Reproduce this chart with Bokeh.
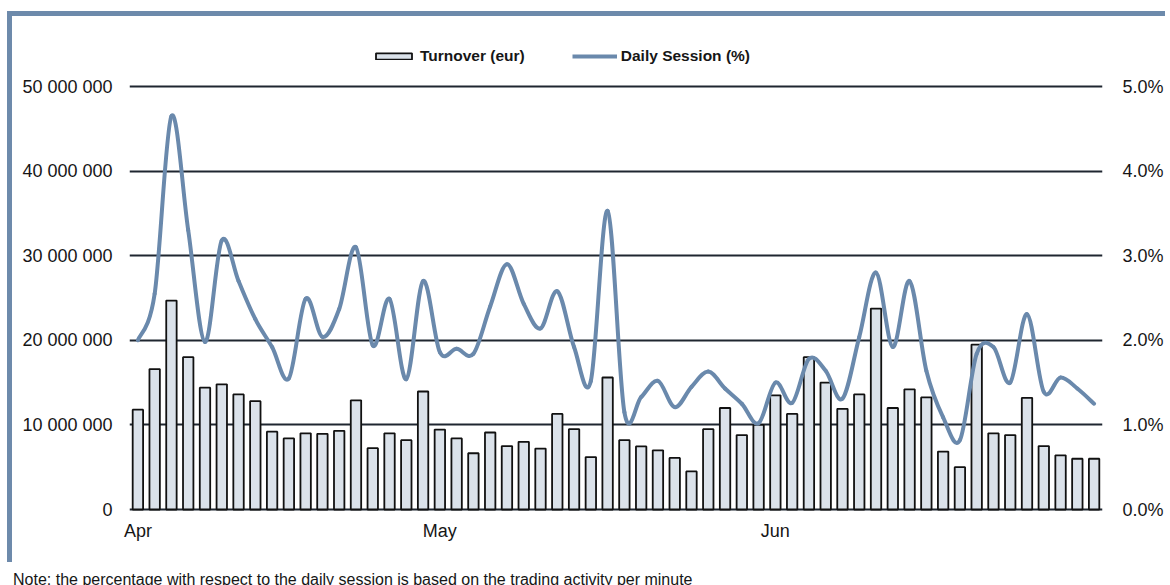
import numpy as np
from bokeh.plotting import figure
from bokeh.layouts import column
from bokeh.models import (Range1d, LinearAxis, FixedTicker, PrintfTickFormatter,
                          Legend, LegendItem, Div)
from bokeh.embed import file_html
from bokeh.resources import INLINE

# ---------------- data ----------------
month_labels = ["Apr", "May", "Jun"]
month_first_day_index = [0, 18, 38]   # index of first trading day of each month

turnover_million_eur = [
    11.8, 16.6, 24.7, 18.0, 14.4, 14.8, 13.6, 12.8, 9.2, 8.4,
    9.0, 8.95, 9.3, 12.9, 7.25, 9.0, 8.2, 13.95, 9.45, 8.4,
    6.65, 9.1, 7.5, 8.0, 7.2, 11.3, 9.5, 6.2, 15.6, 8.2,
    7.45, 7.0, 6.1, 4.5, 9.5, 12.0, 8.8, 10.0, 13.5, 11.3,
    18.0, 15.0, 11.9, 13.6, 23.75, 12.0, 14.2, 13.25, 6.85, 5.0,
    19.5, 9.0, 8.8, 13.2, 7.5, 6.4, 6.0, 6.0,
]
daily_session_pct = [
    2.0, 2.55, 4.65, 3.3, 1.98, 3.18, 2.7, 2.25, 1.92, 1.55,
    2.49, 2.04, 2.37, 3.1, 1.94, 2.49, 1.54, 2.7, 1.86, 1.9,
    1.84, 2.4, 2.9, 2.43, 2.14, 2.58, 1.92, 1.52, 3.53, 1.15,
    1.33, 1.52, 1.21, 1.45, 1.63, 1.43, 1.25, 1.02, 1.5, 1.26,
    1.78, 1.64, 1.31, 2.04, 2.8, 1.92, 2.7, 1.64, 1.09, 0.82,
    1.84, 1.92, 1.5, 2.31, 1.39, 1.56, 1.43, 1.25,
]
left_ticks = [0, 10_000_000, 20_000_000, 30_000_000, 40_000_000, 50_000_000]
left_tick_labels = ["0", "10 000 000", "20 000 000", "30 000 000", "40 000 000", "50 000 000"]
right_ticks = [0, 1, 2, 3, 4, 5]
legend_labels = ["Turnover (eur)", "Daily Session (%)"]
note_text = "Note: the percentage with respect to the daily session is based on the trading activity per minute"

# ---------------- styling ----------------
FONT = "Liberation Sans"
TXT = "#161616"
BAR_FILL = "#dbe2ea"
LINE_COL = "#6a89ac"
BORDER_COL = "#6d8aab"
GRID_COL = "#1f2630"

n = len(turnover_million_eur)
idx = np.arange(n, dtype=float)
turnover = np.array(turnover_million_eur) * 1e6
pct = np.array(daily_session_pct)

W, H = 1158, 551
y_lo, y_hi = -0.2364, 55.674   # millions; headroom above 50M hosts the legend
p = figure(width=W, height=H, output_backend="svg", toolbar_location=None,
           x_range=Range1d(-0.5, n - 0.5),
           y_range=Range1d(y_lo * 1e6, y_hi * 1e6),
           min_border_left=117, min_border_right=68, min_border_top=22, min_border_bottom=56,
           styles={"margin-left": "7px", "margin-top": "11px",
                   "border-left": f"5px solid {BORDER_COL}",
                   "border-top": f"5px solid {BORDER_COL}"})
p.outline_line_color = None
p.background_fill_color = "white"
p.border_fill_color = "white"
p.extra_y_ranges = {"pct": Range1d(y_lo / 10, y_hi / 10)}

p.xgrid.visible = False
p.ygrid.ticker = FixedTicker(ticks=left_ticks)
p.ygrid.grid_line_color = GRID_COL
p.ygrid.grid_line_width = 2

# bars
bars = p.vbar(x=idx, top=turnover, bottom=0, width=0.62,
              fill_color=BAR_FILL, line_color="#111111", line_width=1.8)

# smoothed line (cubic bezier through each data point, Catmull-Rom style)
xp = np.concatenate([[idx[0]], idx[:-1]])
yp = np.concatenate([[pct[0]], pct[:-1]])
xn = np.concatenate([idx[1:], [idx[-1]]])
yn = np.concatenate([pct[1:], [pct[-1]]])
x0, y0, x1, y1 = idx[:-1], pct[:-1], idx[1:], pct[1:]
cx0 = x0 + (x1 - xp[:-1]) / 6.0
cy0 = y0 + (y1 - yp[:-1]) / 6.0
cx1 = x1 - (xn[1:] - x0) / 6.0
cy1 = y1 - (yn[1:] - y0) / 6.0
p.bezier(x0=x0, y0=y0, x1=x1, y1=y1, cx0=cx0, cy0=cy0, cx1=cx1, cy1=cy1,
         line_color=LINE_COL, line_width=4, line_cap="round", y_range_name="pct")
# single-point line (draws nothing itself) that supplies the legend swatch
legend_line = p.line(x=idx[:1], y=pct[:1], line_color=LINE_COL, line_width=4,
                     y_range_name="pct")

# axes
def style_axis(ax, standoff):
    ax.axis_line_color = None
    ax.major_tick_line_color = None
    ax.minor_tick_line_color = None
    ax.major_tick_in = 0
    ax.major_tick_out = 0
    ax.major_label_standoff = standoff
    ax.major_label_text_font = FONT
    ax.major_label_text_font_size = "18px"
    ax.major_label_text_color = TXT

p.yaxis.ticker = FixedTicker(ticks=left_ticks)
p.yaxis.major_label_overrides = {t: l for t, l in zip(left_ticks, left_tick_labels)}
style_axis(p.yaxis[0], 17)

raxis = LinearAxis(y_range_name="pct", ticker=FixedTicker(ticks=right_ticks),
                   formatter=PrintfTickFormatter(format="%.1f%%"))
style_axis(raxis, 20)
p.add_layout(raxis, "right")

p.xaxis.ticker = FixedTicker(ticks=month_first_day_index)
p.xaxis.major_label_overrides = {i: m for i, m in zip(month_first_day_index, month_labels)}
style_axis(p.xaxis[0], 9)

# legend (in the headroom above the 50M grid line)
legend = Legend(items=[LegendItem(label=legend_labels[0], renderers=[bars]),
                       LegendItem(label=legend_labels[1], renderers=[legend_line])],
                orientation="horizontal", location=(242, 446),
                glyph_width=45, glyph_height=8, label_standoff=4, spacing=47,
                label_height=16, padding=0, margin=0,
                border_line_color=None, background_fill_alpha=0,
                label_text_font=FONT, label_text_font_size="15.5px",
                label_text_font_style="bold", label_text_color=TXT)
p.add_layout(legend, "center")

note = Div(text=note_text, width=1157, height=18,
           styles={"margin-left": "13px", "font-family": FONT, "font-size": "16px",
                   "color": TXT, "line-height": "25px", "overflow": "hidden",
                   "white-space": "nowrap"})

layout = column(p, note, spacing=0)
open("out.html", "w").write(file_html(layout, INLINE))
